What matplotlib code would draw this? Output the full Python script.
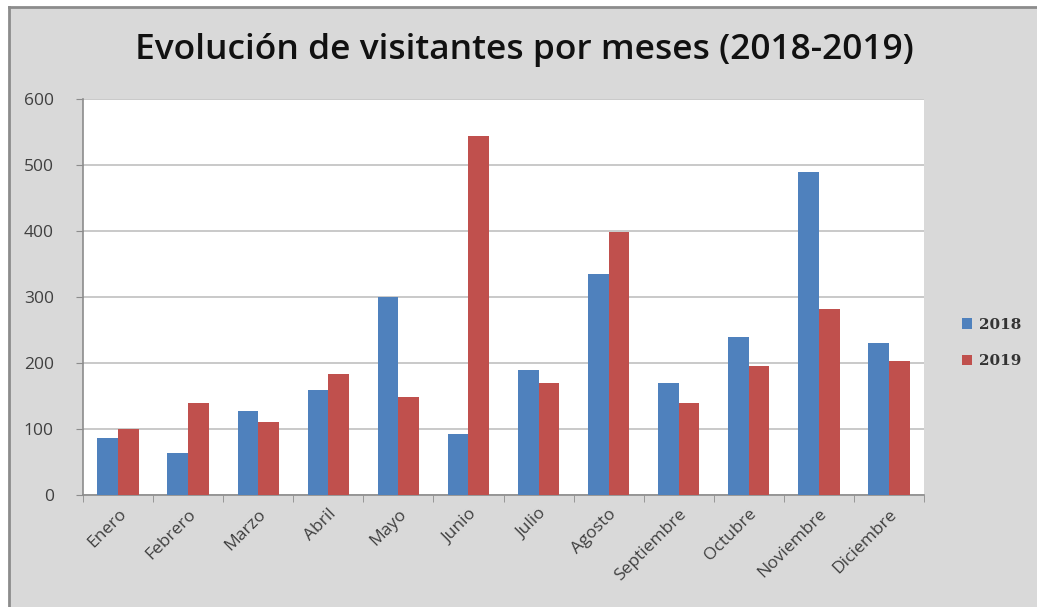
import matplotlib
matplotlib.use("Agg")
import matplotlib.pyplot as plt
import numpy as np
from matplotlib.patches import Rectangle
from matplotlib.lines import Line2D

months = ["Enero", "Febrero", "Marzo", "Abril", "Mayo", "Junio", "Julio",
          "Agosto", "Septiembre", "Octubre", "Noviembre", "Diciembre"]
v2018 = [87, 63, 128, 159, 300, 92, 189, 335, 169, 239, 489, 231]
v2019 = [100, 139, 110, 184, 148, 544, 169, 398, 139, 195, 282, 203]
yticks = [0, 100, 200, 300, 400, 500, 600]
title = "Evolución de visitantes por meses (2018-2019)"

W, H = 1037, 607
fig = plt.figure(figsize=(W / 100, H / 100), dpi=100)
fig.patch.set_facecolor("white")

# gray chart background with border on left/top
bg = Rectangle((9 / W, 0), 1 - 9 / W, 1 - 7 / H, transform=fig.transFigure,
               facecolor="#d9d9d9", edgecolor="none", zorder=-10)
fig.patches.append(bg)
fig.lines.append(Line2D([9 / W, 9 / W], [0, 1 - 7 / H], transform=fig.transFigure,
                        color="#8c8c8c", linewidth=2))
fig.lines.append(Line2D([9 / W, 1], [1 - 7 / H, 1 - 7 / H], transform=fig.transFigure,
                        color="#8c8c8c", linewidth=2))

ax = fig.add_axes([83 / W, 1 - 495 / H, (924 - 83) / W, (495 - 99) / H])
ax.set_facecolor("white")

x = np.arange(len(months))
bw = 0.295
ax.bar(x - bw / 2, v2018, bw, color="#4f81bd", label="2018", zorder=3)
ax.bar(x + bw / 2, v2019, bw, color="#c0504d", label="2019", zorder=3)

ax.set_xlim(-0.5, len(months) - 0.5)
ax.set_ylim(0, 600)
ax.set_yticks(yticks)
ax.set_yticklabels([str(t) for t in yticks], fontsize=12.5, color="#404040",
                   family="Open Sans")
ax.yaxis.grid(True, color="#c0c0c0", linewidth=1.2, zorder=0)
ax.set_axisbelow(True)

ax.set_xticks(x)
ax.set_xticklabels(months, rotation=45, ha="right", rotation_mode="anchor",
                   fontsize=12.5, color="#404040", family="Open Sans")
ax.tick_params(axis="x", length=0, pad=8)
ax.set_xticks(np.arange(-0.5, len(months)), minor=True)
ax.tick_params(axis="x", which="minor", length=5, color="#8c8c8c", direction="out")
ax.tick_params(axis="y", length=5, color="#8c8c8c", direction="out", pad=16)

for s in ["top", "right"]:
    ax.spines[s].set_visible(False)
for s in ["left", "bottom"]:
    ax.spines[s].set_color("#8c8c8c")
    ax.spines[s].set_linewidth(1.2)

fig.text(524 / W, 1 - 50 / H, title, ha="center", va="center",
         fontsize=25.5, fontweight="semibold", family="Open Sans", color="#111111")

leg = fig.legend(loc="center left", bbox_to_anchor=(948 / W, 1 - 343 / H),
                 frameon=False, handlelength=0.7, handleheight=0.7,
                 handletextpad=0.4, labelspacing=1.5,
                 prop={"family": "DejaVu Serif", "size": 11, "weight": "semibold"})
for t in leg.get_texts():
    t.set_color("#333333")

fig.savefig("out.png", dpi=100, facecolor=fig.get_facecolor())
